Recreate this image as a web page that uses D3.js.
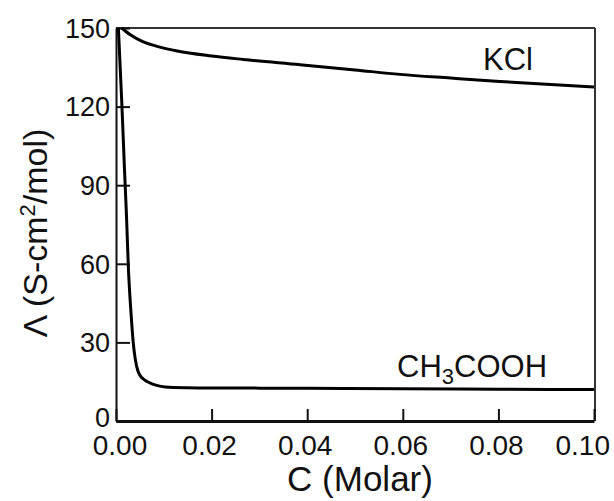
<!DOCTYPE html>
<html>
<head>
<meta charset="utf-8">
<script src="https://cdn.jsdelivr.net/npm/d3@7"></script>
<style>
 body { margin: 0; background: #fff; }
 text { font-family: "Liberation Sans", Arial, sans-serif; fill: #111; }
</style>
</head>
<body>
<div id="chart"></div>
<script>
 var pic_width = 614,
     pic_height = 501;

 // concentration (Molar) and molar conductivity readings
 var kclConc = [0.0012, 0.003, 0.0056, 0.009, 0.0128, 0.02, 0.0266, 0.0385, 0.05, 0.0594, 0.07, 0.0803, 0.09, 0.1];
 var kclLambda = [150, 147.4, 144.8, 142.8, 141.2, 139.3, 138.0, 136.0, 134.0, 132.3, 130.9, 129.6, 128.5, 127.5];

 var acidConc = [0.0005, 0.0012, 0.0018, 0.0022, 0.0026, 0.003, 0.0033, 0.0036, 0.004, 0.0046, 0.0056, 0.0067, 0.0085, 0.0103, 0.015, 0.02, 0.04, 0.06, 0.08, 0.1];
 var acidLambda = [150, 122, 95, 78, 58, 45, 37, 30, 24, 19, 16.2, 14.9, 13.6, 13.0, 12.7, 12.6, 12.5, 12.3, 12.1, 12.0];

 var xTicks = [0, 0.02, 0.04, 0.06, 0.08, 0.10];
 var yTicks = [0, 30, 60, 90, 120, 150];

 var margin = { top: 28, right: 20, bottom: 80, left: 116 };
 var width = 594 - margin.left,
     height = 421 - margin.top;

 var x = d3.scaleLinear().domain([0, 0.1]).range([margin.left, margin.left + width]);
 var y = d3.scaleLinear().domain([0, 150]).range([margin.top + height, margin.top]);

 var svg = d3.select('#chart').append('svg')
     .attr('width', pic_width)
     .attr('height', pic_height)
     .style('display', 'block');

 svg.append('defs').append('clipPath').attr('id', 'plot')
     .append('rect')
     .attr('x', x(0)).attr('y', y(150) - 2)
     .attr('width', x(0.1) - x(0)).attr('height', y(0) - y(150) + 2);

 // frame: top and right
 svg.append('line')
     .attr('x1', x(0)).attr('x2', x(0.1) + 1)
     .attr('y1', y(150)).attr('y2', y(150))
     .attr('stroke', '#333').attr('stroke-width', 2);
 svg.append('line')
     .attr('x1', x(0.1) + 1).attr('x2', x(0.1) + 1)
     .attr('y1', y(150)).attr('y2', y(0))
     .attr('stroke', '#333').attr('stroke-width', 2);

 // axes with inward ticks
 var xAxis = svg.append('g')
     .attr('transform', 'translate(0,' + y(0) + ')')
     .call(d3.axisTop(x).tickValues(xTicks).tickSize(12).tickSizeOuter(0).tickFormat(''));
 xAxis.select('.domain').attr('stroke', '#111').attr('stroke-width', 3);
 xAxis.selectAll('.tick line').attr('stroke', '#111').attr('stroke-width', 2);

 var yAxis = svg.append('g')
     .attr('transform', 'translate(' + x(0) + ',0)')
     .call(d3.axisRight(y).tickValues(yTicks).tickSize(14).tickSizeOuter(0).tickFormat(''));
 yAxis.select('.domain').attr('stroke', '#111').attr('stroke-width', 2);
 yAxis.selectAll('.tick line').attr('stroke', '#111').attr('stroke-width', 2);

 // tick labels
 svg.selectAll('.xlab').data(xTicks).enter().append('text')
     .attr('class', 'xlab')
     .attr('x', function(d, i) { return i === xTicks.length - 1 ? x(d) + 16 : x(d) + (i === 0 ? 4 : -2); })
     .attr('y', 455)
     .attr('text-anchor', function(d, i) { return i === xTicks.length - 1 ? 'end' : 'middle'; })
     .style('font-size', '28px')
     .text(function(d) { return d3.format('.2f')(d); });

 svg.selectAll('.ylab').data(yTicks).enter().append('text')
     .attr('class', 'ylab')
     .attr('x', 110)
     .attr('y', function(d) { return y(d) - (d === 0 ? 4 : 0); })
     .attr('dy', '0.36em')
     .attr('text-anchor', 'end')
     .style('font-size', '27px')
     .text(function(d) { return d; });

 // axis titles
 svg.append('text')
     .attr('x', 360).attr('y', 491)
     .attr('text-anchor', 'middle')
     .style('font-size', '35px')
     .text('C (Molar)');

 var yt = svg.append('text')
     .attr('transform', 'translate(47,233) rotate(-90)')
     .attr('text-anchor', 'middle')
     .style('font-size', '34px');
 yt.append('tspan').text('\u039B (S-cm');
 yt.append('tspan').attr('dy', -12).style('font-size', '22px').text('2');
 yt.append('tspan').attr('dy', 12).text('/mol)');

 // curves
 var line = d3.line()
     .x(function(d) { return x(d[0]); })
     .y(function(d) { return y(d[1]); })
     .curve(d3.curveMonotoneX);

 var curves = [d3.zip(kclConc, kclLambda), d3.zip(acidConc, acidLambda)];
 svg.append('g').attr('clip-path', 'url(#plot)')
     .selectAll('path').data(curves).enter().append('path')
     .attr('d', line)
     .attr('fill', 'none')
     .attr('stroke', '#000')
     .attr('stroke-width', 3)
     .attr('stroke-linejoin', 'round');

 // series labels
 svg.append('text')
     .attr('x', 508).attr('y', 70)
     .attr('text-anchor', 'middle')
     .style('font-size', '31px')
     .text('KCl');

 var ac = svg.append('text')
     .attr('x', 397).attr('y', 377)
     .style('font-size', '31px');
 ac.append('tspan').text('CH');
 ac.append('tspan').attr('dy', 7).style('font-size', '22px').text('3');
 ac.append('tspan').attr('dy', -7).text('COOH');
</script>
</body>
</html>
